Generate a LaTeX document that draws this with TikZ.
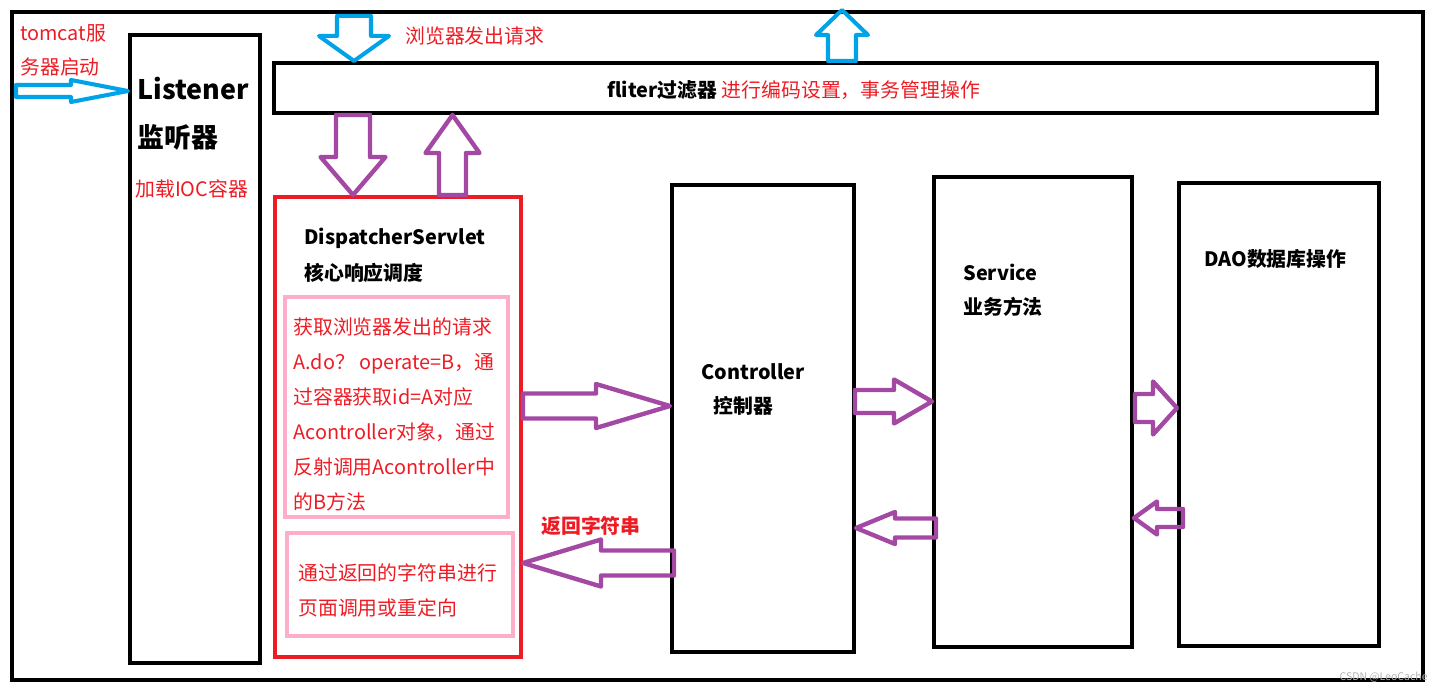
\documentclass[tikz,border=0pt]{standalone}
\usepackage{fontspec}
\setmainfont{Noto Sans CJK SC}
\usepackage{tikz}
\usetikzlibrary{calc,fit,positioning}
\definecolor{pcred}{HTML}{ED1C24}
\definecolor{pcpink}{HTML}{FFAEC9}
\definecolor{pcpurple}{HTML}{A349A4}
\definecolor{pcblue}{HTML}{00A2E8}

\tikzset{
  box/.style={draw,line width=2.3pt,inner sep=0pt},
  rtext/.style={text=pcred,font=\fontsize{11.3}{13}\selectfont,inner sep=0pt,anchor=west},
  btext/.style={text=black,font=\bfseries\fontsize{11.3}{13}\selectfont,inner sep=0pt,anchor=west},
  bigtext/.style={btext,font=\bfseries\fontsize{15.3}{18}\selectfont},
  bluearrow/.style={draw=pcblue,line width=2.3pt,line join=round},
  purplearrow/.style={draw=pcpurple,line width=2.5pt,line join=round}
}

% hollow block arrow: style, tip, angle, length, shaft half, head half, head length
\newcommand\blockarrow[7]{%
  \begin{scope}[shift={#2},rotate=#3]
    \draw[#1] (0,0) -- (-#7,#6) -- (-#7,#5) -- (-#4,#5) -- (-#4,-#5)
      -- (-#7,-#5) -- (-#7,-#6) -- cycle;
  \end{scope}}

\begin{document}
\begin{tikzpicture}[x=0.02cm,y=-0.02cm]
  \useasboundingbox (0,0) rectangle (1442,692);
  %% boxes
  \node[box,fit={(12,12) (1423,680)}] (frame) {};
  \node[box,fit={(130,35) (260,663)}] (lis) {};
  \node[box,fit={(274,63) (1377,113)}] (filt) {};
  \node[box,draw=pcred,fit={(275,197) (521,657)}] (disp) {};
  \node[box,draw=pcpink,fit={(285,297) (508,517)}] (pk1) {};
  \node[box,draw=pcpink,fit={(287,533) (513,636)}] (pk2) {};
  \node[box,fit={(672,185) (854,652)}] (ctrl) {};
  \node[box,fit={(934,177) (1132,647)}] (serv) {};
  \node[box,fit={(1179,183) (1379,646)}] (dao) {};

  %% texts
  \node[rtext] (tc1) at (20,33) {tomcat服};
  \node[rtext] (tc2) at (20,67) {务器启动};
  \node[bigtext] (lis1) at (137,89) {Listener};
  \node[bigtext] (lis2) at (137,137) {监听器};
  \node[rtext] (lis3) at (135,189) {加载IOC容器};
  \node[rtext] (req) at (405,36) {浏览器发出请求};
  \node[btext] (ftxt) at (607,90) {fliter过滤器 \textcolor{pcred}{\mdseries 进行编码设置，事务管理操作}};
  \node[btext] (ds1) at (304,238) {DispatcherServlet};
  \node[btext] (ds2) at (304,273) {核心响应调度};
  \node[rtext,align=left,font=\fontsize{11.3}{19.85}\selectfont] (pk1txt) at (293,414.5)
    {获取浏览器发出的请求\\A.do？ operate=B，通\\过容器获取id=A对应\\Acontroller对象，通过\\反射调用Acontroller中\\的B方法};
  \node[rtext,font=\bfseries\fontsize{11.3}{13}\selectfont] (ret) at (541,526) {返回字符串};
  \node[rtext,align=left,font=\fontsize{11.3}{19.85}\selectfont] (pk2txt) at (298,590)
    {通过返回的字符串进行\\页面调用或重定向};
  \node[btext] (c1) at (701,372) {Controller};
  \node[btext] (c2) at (713,406) {控制器};
  \node[btext] (s1) at (963,272) {Service};
  \node[btext] (s2) at (963,307) {业务方法};
  \node[btext] (d1) at (1204,259) {DAO数据库操作};
  \node[text=gray!60,font=\fontsize{6}{7}\selectfont,inner sep=0pt,anchor=east] (wm) at (1428,677) {CSDN @LeoCache};

  %% block arrows
  \blockarrow{bluearrow}{(lis.west |- 0,91)}{0}{112}{6}{11}{57}
  \blockarrow{bluearrow}{(filt.north -| 354,0)}{-90}{45}{17}{35}{25}
  \blockarrow{bluearrow}{(frame.north -| 842,0)}{90}{51}{14}{26}{25}
  \blockarrow{purplearrow}{(disp.north -| 353,0)}{-90}{80}{17}{32.5}{38}
  \blockarrow{purplearrow}{(filt.south -| 452.5,0)}{90}{80}{13.5}{27}{38}
  \blockarrow{purplearrow}{(ctrl.west |- 0,406)}{0}{147}{12.5}{22}{74}
  \blockarrow{purplearrow}{(disp.east |- 0,563)}{180}{151}{12.5}{23.5}{78}
  \blockarrow{purplearrow}{(serv.west |- 0,401.5)}{0}{77}{11.5}{22}{38}
  \blockarrow{purplearrow}{(ctrl.east |- 0,528)}{180}{80}{9.5}{16}{39}
  \blockarrow{purplearrow}{(dao.west |- 0,408)}{0}{42}{14}{26.5}{24}
  \blockarrow{purplearrow}{(serv.east |- 0,518)}{180}{49}{9}{16.5}{23}
\end{tikzpicture}
\end{document}
